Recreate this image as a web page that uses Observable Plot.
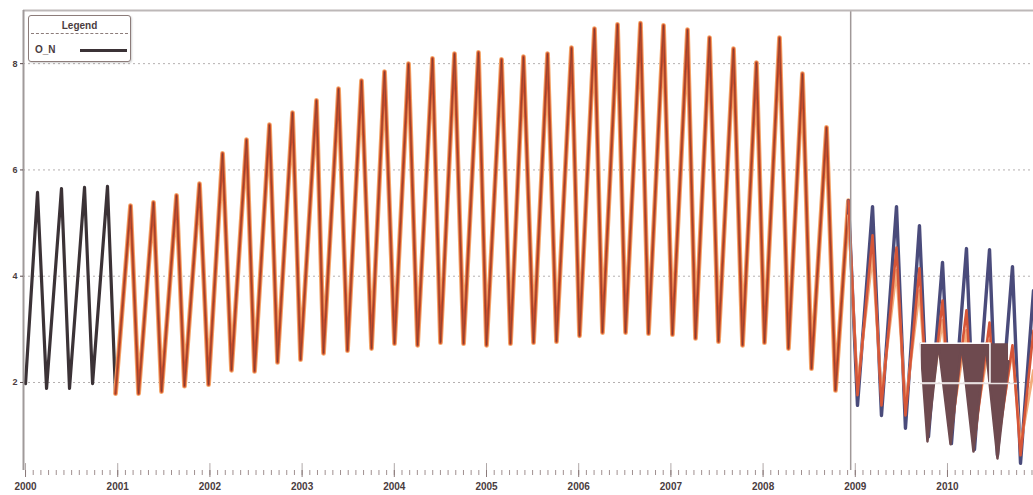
<!DOCTYPE html>
<html><head><meta charset="utf-8">
<script src="https://cdn.jsdelivr.net/npm/d3@7"></script>
<script src="https://cdn.jsdelivr.net/npm/@observablehq/plot@0.6"></script>
<style>
body{margin:0;background:#fff;}
#wrap{position:relative;width:1033px;height:495px;}
#legend{position:absolute;left:28px;top:15px;width:101px;height:45px;border:1.5px solid #8c7c7a;border-radius:3px;background:#fff;font:bold 10px "Liberation Sans",Arial,sans-serif;color:#4a3c3e;box-shadow:1px 1px 2px rgba(0,0,0,0.18);}
#legend .title{position:absolute;left:0;right:0;top:4px;text-align:center;}
#legend .sep{position:absolute;left:2px;right:2px;top:17px;border-top:1px dashed #8c7c7a;}
#legend .lab{position:absolute;left:6px;top:28px;}
#legend .sw{position:absolute;left:51px;top:33px;width:47px;height:3px;background:#3b3236;}
</style></head>
<body>
<div id="wrap"><div id="chart"></div>
<div id="legend"><div class="title">Legend</div><div class="sep"></div><div class="lab">O_N</div><div class="sw"></div></div>
</div>
<script>
// ---- data (decimal years, values) ----
const yTicks = [2, 4, 6, 8];
const yearTicks = [2000, 2001, 2002, 2003, 2004, 2005, 2006, 2007, 2008, 2009, 2010];
const legendLabel = "O_N";

const darkT = [2000.0, 2000.130, 2000.228, 2000.390, 2000.477, 2000.640, 2000.727, 2000.889, 2000.976];
const darkV = [1.98, 5.58, 1.89, 5.65, 1.89, 5.67, 1.98, 5.69, 1.79];

const orangeT = [2000.976,
 2001.139, 2001.226, 2001.388, 2001.475, 2001.638, 2001.724, 2001.887, 2001.985,
 2002.137, 2002.234, 2002.397, 2002.484, 2002.646, 2002.733, 2002.896, 2002.983,
 2003.156, 2003.232, 2003.395, 2003.492, 2003.644, 2003.753, 2003.894, 2004.002,
 2004.154, 2004.252, 2004.414, 2004.501, 2004.653, 2004.751, 2004.913, 2005.000,
 2005.163, 2005.260, 2005.401, 2005.510, 2005.662, 2005.759, 2005.922, 2006.009,
 2006.171, 2006.258, 2006.421, 2006.508, 2006.670, 2006.757, 2006.920, 2007.017,
 2007.180, 2007.267, 2007.419, 2007.516, 2007.679, 2007.777, 2007.928, 2008.015,
 2008.178, 2008.275, 2008.427, 2008.525, 2008.688, 2008.785, 2008.926];
const orangeV = [1.79,
 5.33, 1.79, 5.39, 1.83, 5.52, 1.93, 5.74, 1.96,
 6.31, 2.23, 6.57, 2.21, 6.85, 2.38, 7.08, 2.43,
 7.31, 2.55, 7.53, 2.60, 7.68, 2.64, 7.85, 2.73,
 8.00, 2.70, 8.10, 2.75, 8.19, 2.73, 8.21, 2.70,
 8.08, 2.73, 8.13, 2.75, 8.19, 2.77, 8.30, 2.88,
 8.66, 2.94, 8.74, 2.94, 8.76, 2.92, 8.72, 2.90,
 8.64, 2.83, 8.49, 2.77, 8.28, 2.70, 8.02, 2.75,
 8.49, 2.64, 7.81, 2.26, 6.80, 1.85, 5.42];

const rightT = [2008.926, 2009.024, 2009.187, 2009.284, 2009.447, 2009.544, 2009.696, 2009.794, 2009.946,
 2010.043, 2010.206, 2010.293, 2010.456, 2010.542, 2010.705, 2010.792, 2010.933];
const navyV  = [5.42, 1.57, 5.31, 1.38, 5.31, 1.14, 4.95, 0.98, 4.26, 0.85, 4.52, 0.74, 4.50, 0.63, 4.18, 0.48, 3.73];
const redV   = [5.42, 1.76, 4.77, 1.57, 4.54, 1.38, 4.15, 1.19, 3.54, 1.06, 3.36, 0.91, 3.13, 0.78, 2.70, 0.63, 2.98];
const peachV = [5.14, 1.94, 4.39, 1.76, 4.11, 1.57, 3.73, 1.38, 3.17, 1.19, 2.98, 1.10, 2.79, 0.95, 2.60, 0.82, 2.23];

const brownT = [2009.707, 2009.783, 2009.902, 2010.033, 2010.152, 2010.282, 2010.412, 2010.542, 2010.662];
const brownV = [2.73, 0.89, 2.73, 0.84, 2.73, 0.70, 2.73, 0.57, 2.40];
const brownTop = 2.73;
const boxT = [2009.707, 2010.466];
const boxV = [1.98, 2.73];
const boxRuleT = [2009.707, 2010.76];
const dividerT = 2008.95;

// ---- build ----
const zip = (t, v) => t.map((d, i) => ({t: d, v: v[i]}));
const dark = zip(darkT, darkV);
const orange = zip(orangeT, orangeV);
const navy = zip(rightT, navyV);
const red = zip(rightT, redV);
const peach = zip(rightT, peachV);
const brown = zip(brownT, brownV);
const xDom = [1999.978, 2010.933];
const yDom = [0.344, 9.0];
const monthTicks = d3.range(0, 132).map(i => 2000 + i / 12).filter(t => t <= xDom[1]);

const chart = Plot.plot({
  width: 1033, height: 495,
  marginLeft: 23, marginRight: 0, marginTop: 10, marginBottom: 25,
  x: {domain: xDom},
  y: {domain: yDom},
  style: {fontFamily: "'Liberation Sans', Arial, sans-serif", fontSize: "10px", fontWeight: "bold", color: "#4a3c3e", background: "#fff"},
  marks: [
    Plot.gridY(yTicks, {stroke: "#b5b0b0", strokeOpacity: 1, strokeDasharray: "2,3"}),
    Plot.line(dark, {x: "t", y: "v", stroke: "#3b3236", strokeWidth: 3.2, clip: true}),
    Plot.line(orange, {x: "t", y: "v", stroke: "#f4a66a", strokeWidth: 4.8, clip: true}),
    Plot.line(orange, {x: "t", y: "v", stroke: "#cf4f2b", strokeWidth: 2.8, clip: true}),
    Plot.line(orange, {x: "t", y: "v", stroke: "#6a3a33", strokeWidth: 1, strokeOpacity: 0.55, clip: true}),
    Plot.line(navy, {x: "t", y: "v", stroke: "#4a4b7b", strokeWidth: 3.4, clip: true}),
    Plot.line(peach, {x: "t", y: "v", stroke: "#f2ad7c", strokeWidth: 2.8, clip: true}),
    Plot.line(red, {x: "t", y: "v", stroke: "#d65638", strokeWidth: 2.6, clip: true}),
    Plot.areaY(brown, {x: "t", y1: brownTop, y2: "v", fill: "#6e4a4f", clip: true}),
    Plot.line(brown, {x: "t", y: "v", stroke: "#6e4a4f", strokeWidth: 2.5, clip: true}),
    Plot.rect([{x1: boxT[0], x2: boxT[1], y1: boxV[0], y2: boxV[1]}], {x1: "x1", x2: "x2", y1: "y1", y2: "y2", fill: "none", stroke: "#fff", strokeWidth: 1.5}),
    Plot.ruleY([boxV[0]], {x1: boxRuleT[0], x2: boxRuleT[1], stroke: "#e8e0e0", strokeWidth: 1.5}),
    Plot.ruleX([dividerT], {stroke: "#a09898", strokeWidth: 1.5}),
    Plot.ruleY([yDom[1]], {stroke: "#bdb8b8", strokeWidth: 2}),
    Plot.ruleX([xDom[0]], {stroke: "#a09a9a", strokeWidth: 2}),
    Plot.axisY(yTicks, {tickSize: 3, tickPadding: 3, fontSize: 9, tickFormat: d => String(d), stroke: "#5a4a4c"}),
    Plot.axisX(monthTicks, {tickSize: 5, tickFormat: () => "", stroke: "#a09090"}),
    Plot.axisX(yearTicks, {tickSize: 7, tickPadding: 5, tickFormat: d => String(d), stroke: "#8a7a7a", fontSize: 10}),
    Plot.ruleX(yearTicks, {y1: yDom[0], y2: yDom[0] + 0.13, stroke: "#b0a8a8"})
  ]
});
document.getElementById("chart").appendChild(chart);
</script>
</body></html>
